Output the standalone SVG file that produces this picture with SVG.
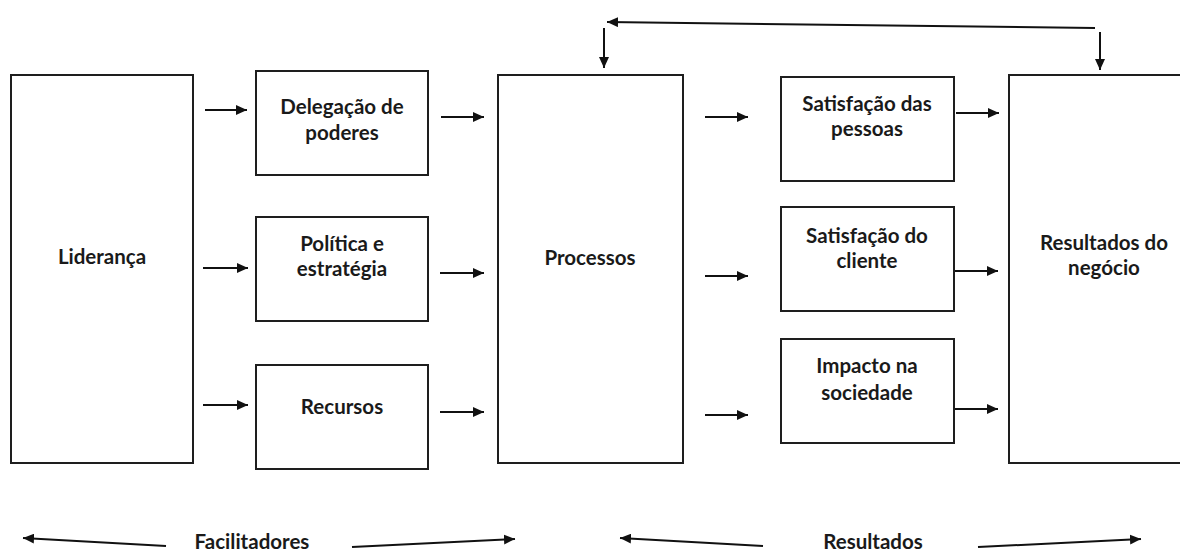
<svg xmlns="http://www.w3.org/2000/svg" width="1180" height="552" viewBox="0 0 1180 552">
<defs>
<marker id="ah" markerWidth="11" markerHeight="10" refX="11" refY="5" orient="auto" markerUnits="userSpaceOnUse">
<path d="M0,0 L11,5 L0,10 Z" fill="#111"/>
</marker>
<style>
.box{fill:#fff;stroke:#1e1e1e;stroke-width:2}
.lbl{font-family:Lato,"Liberation Sans",sans-serif;font-weight:700;font-size:20.5px;fill:#1a1a1a;text-anchor:middle}
.arr{stroke:#111;stroke-width:2;fill:none;marker-end:url(#ah)}
</style>
</defs>
<rect width="1180" height="552" fill="#fff"/>
<g id="lideranca"><rect class="box" x="11" y="75" width="182" height="388"/><text class="lbl" x="102" y="264">Liderança</text></g>
<g id="delegacao"><rect class="box" x="256" y="71" width="172" height="104"/><text class="lbl" x="342" y="114">Delegação de</text><text class="lbl" x="342" y="140">poderes</text></g>
<g id="politica"><rect class="box" x="256" y="217" width="172" height="104"/><text class="lbl" x="342" y="251">Política e</text><text class="lbl" x="342" y="276">estratégia</text></g>
<g id="recursos"><rect class="box" x="256" y="365" width="172" height="104"/><text class="lbl" x="342" y="414">Recursos</text></g>
<g id="processos"><rect class="box" x="498" y="75" width="185" height="388"/><text class="lbl" x="590" y="265">Processos</text></g>
<g id="satisfacao-pessoas"><rect class="box" x="781" y="77" width="173" height="104"/><text class="lbl" x="867" y="111">Satisfação das</text><text class="lbl" x="867" y="136">pessoas</text></g>
<g id="satisfacao-cliente"><rect class="box" x="781" y="207" width="173" height="104"/><text class="lbl" x="867" y="243">Satisfação do</text><text class="lbl" x="867" y="268">cliente</text></g>
<g id="impacto"><rect class="box" x="781" y="339" width="173" height="104"/><text class="lbl" x="867" y="373">Impacto na</text><text class="lbl" x="867" y="400">sociedade</text></g>
<g id="resultados-negocio"><rect class="box" x="1009" y="75" width="200" height="388"/><text class="lbl" x="1104" y="250">Resultados do</text><text class="lbl" x="1104" y="275">negócio</text></g>
<g id="legend">
<text class="lbl" x="252" y="549">Facilitadores</text>
<text class="lbl" x="873" y="549">Resultados</text>
</g>
<g id="connectors">
<line class="arr" x1="205" y1="110" x2="247" y2="110"/>
<line class="arr" x1="203" y1="268" x2="248" y2="268"/>
<line class="arr" x1="203" y1="405" x2="248" y2="405"/>
<line class="arr" x1="441" y1="117" x2="484" y2="117"/>
<line class="arr" x1="440" y1="273" x2="484" y2="273"/>
<line class="arr" x1="440" y1="412" x2="484" y2="412"/>
<line class="arr" x1="705" y1="117" x2="748" y2="117"/>
<line class="arr" x1="705" y1="276" x2="748" y2="276"/>
<line class="arr" x1="705" y1="415" x2="748" y2="415"/>
<line class="arr" x1="956" y1="113" x2="999" y2="113"/>
<line class="arr" x1="955" y1="271" x2="998" y2="271"/>
<line class="arr" x1="955" y1="409" x2="998" y2="409"/>
<line class="arr" x1="1095" y1="28" x2="607" y2="22"/>
<line class="arr" x1="604" y1="28" x2="604" y2="68"/>
<line class="arr" x1="1100" y1="32" x2="1100" y2="70"/>
<line class="arr" x1="166" y1="546" x2="23" y2="538"/>
<line class="arr" x1="352" y1="547" x2="515" y2="539"/>
<line class="arr" x1="763" y1="546" x2="620" y2="538"/>
<line class="arr" x1="978" y1="547" x2="1141" y2="539"/>
</g>
</svg>
